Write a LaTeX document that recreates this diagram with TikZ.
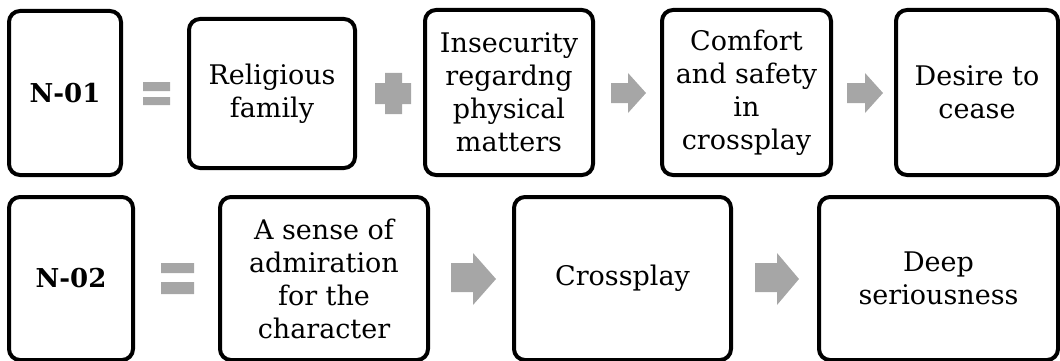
\documentclass[tikz,border=0pt]{standalone}
\usepackage{fontspec}
\setmainfont{DejaVu Serif}
\definecolor{symgray}{HTML}{A6A6A6}
\begin{document}
\begin{tikzpicture}[x=1pt,y=-1pt,
  box/.style={draw=black,line width=4pt,rounded corners=11pt,fill=white,align=center,
    inner sep=0pt,font=\fontsize{27}{33}\selectfont},
  idbox/.style={box,font=\fontsize{26}{33}\selectfont\bfseries},
  sym/.style={fill=symgray,draw=none}]
\useasboundingbox (0,0) rectangle (1060,361);
% row 1
\node[idbox,minimum width=112pt,minimum height=164pt] (n1) at (65,93) {N-01};
\node[box,minimum width=166pt,minimum height=149pt] (r1) at (272,93.5) {Religious\\family};
\node[box,minimum width=168pt,minimum height=165pt] (i1) at (509,92.5) {Insecurity\\regardng\\physical\\matters};
\node[box,minimum width=169pt,minimum height=165pt] (c1) at (746.5,92.5) {Comfort\\and safety\\in\\crossplay};
\node[box,minimum width=162pt,minimum height=165pt] (d1) at (977,92.5) {Desire to\\cease};
% row 2
\node[idbox,minimum width=124pt,minimum height=163pt] (n2) at (71,278.5) {N-02};
\node[box,minimum width=208pt,minimum height=163pt] (a2) at (324,278.5) {A sense of\\admiration\\for the\\character};
\node[box,minimum width=217pt,minimum height=163pt] (x2) at (622.5,278.5) {Crossplay};
\node[box,minimum width=239pt,minimum height=163pt] (s2) at (938.5,278.5) {Deep\\seriousness};
% symbols row 1
\fill[sym] (143,82) rectangle (170,91) (143,97) rectangle (170,105);
\fill[sym] (385,73) -- (402,73) -- (402,83) -- (411,83) -- (411,104) -- (402,104) -- (402,114)
  -- (385,114) -- (385,104) -- (375,104) -- (375,83) -- (385,83) -- cycle;
\fill[sym] (611,83) -- (628,83) -- (628,73) -- (646,93) -- (628,113) -- (628,103) -- (611,103) -- cycle;
\fill[sym] (847,83) -- (865,83) -- (865,73) -- (883,93) -- (865,113) -- (865,103) -- (847,103) -- cycle;
% symbols row 2
\fill[sym] (161,263) rectangle (194,273) (161,282) rectangle (194,294);
\fill[sym] (451,263) -- (473,263) -- (473,253) -- (496,279) -- (473,305) -- (473,292) -- (451,292) -- cycle;
\fill[sym] (755,263) -- (777,263) -- (777,253) -- (799,279) -- (777,305) -- (777,292) -- (755,292) -- cycle;
\end{tikzpicture}
\end{document}
